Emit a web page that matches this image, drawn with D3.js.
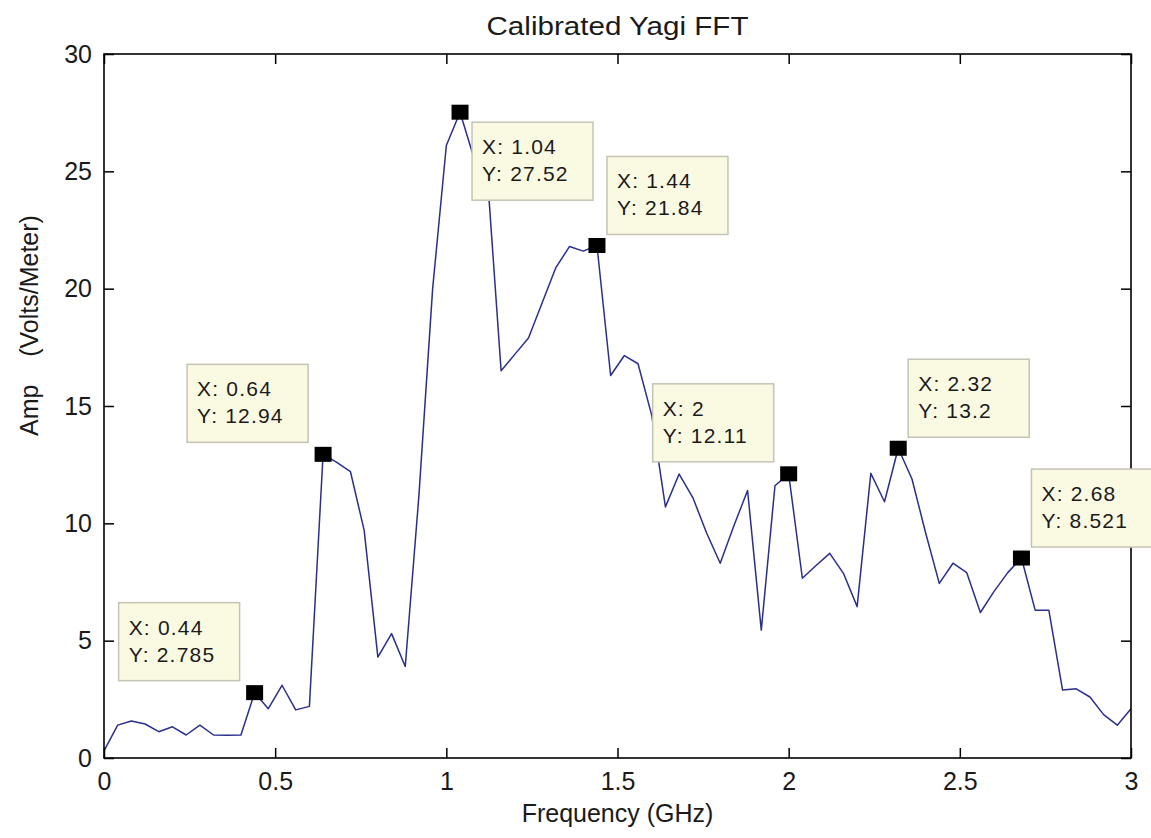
<!DOCTYPE html>
<html><head><meta charset="utf-8">
<script src="https://cdn.jsdelivr.net/npm/d3@7"></script>
<style>
body{margin:0;background:#fff}
text{font-family:"Liberation Sans",Arial,sans-serif;fill:#1a1a1a}
</style>
</head><body><svg id="c" width="1151" height="838"></svg>
<script>
const freq = [0.00,0.04,0.08,0.12,0.16,0.20,0.24,0.28,0.32,0.36,0.40,0.44,0.48,0.52,0.56,0.60,
  0.64,0.68,0.72,0.76,0.80,0.84,0.88,0.92,0.96,1.00,1.04,1.08,1.12,1.16,1.20,1.24,1.28,1.32,
  1.36,1.40,1.44,1.48,1.52,1.56,1.60,1.64,1.68,1.72,1.76,1.80,1.84,1.88,1.92,1.96,2.00,2.04,
  2.08,2.12,2.16,2.20,2.24,2.28,2.32,2.36,2.40,2.44,2.48,2.52,2.56,2.60,2.64,2.68,2.72,2.76,
  2.80,2.84,2.88,2.92,2.96,3.00];
const amp = [0.3,1.4,1.58,1.45,1.12,1.33,0.98,1.4,0.98,0.97,0.98,2.785,2.1,3.1,2.05,2.2,
  12.94,12.6,12.2,9.7,4.3,5.3,3.9,11.2,20.0,26.1,27.52,25.6,24.8,16.5,17.2,17.9,19.4,20.9,
  21.8,21.6,21.84,16.3,17.15,16.8,14.6,10.7,12.1,11.1,9.6,8.3,9.9,11.4,5.45,11.6,12.11,7.66,
  8.2,8.72,7.87,6.45,12.13,10.92,13.2,11.9,9.6,7.44,8.3,7.9,6.2,7.1,7.9,8.521,6.3,6.3,
  2.9,2.95,2.6,1.85,1.4,2.1];
const xTicks = [0,0.5,1,1.5,2,2.5,3];
const xTickLabels = ["0","0.5","1","1.5","2","2.5","3"];
const yTicks = [0,5,10,15,20,25,30];
const yTickLabels = ["0","5","10","15","20","25","30"];
const tipX = [0.44,0.64,1.04,1.44,2,2.32,2.68];
const tipY = [2.785,12.94,27.52,21.84,12.11,13.2,8.521];
const tipXLabels = ["0.44","0.64","1.04","1.44","2","2.32","2.68"];
const tipYLabels = ["2.785","12.94","27.52","21.84","12.11","13.2","8.521"];
const tipSide = ["ul","ul","lr","ur","ul","ur","ur"];
const titleText = "Calibrated Yagi FFT";
const xLabelText = "Frequency (GHz)";
const yLabelText = "Amp    (Volts/Meter)";

const svg = d3.select("#c");
const L=104, R=1131, T=54, B=758;
const x = d3.scaleLinear().domain([0,3]).range([L,R]);
const y = d3.scaleLinear().domain([0,30]).range([B,T]);

svg.append("rect").attr("width",1151).attr("height",838).attr("fill","#fff");

// data line
svg.append("path")
  .datum(freq.map((f,i)=>[f,amp[i]]))
  .attr("fill","none").attr("stroke","#2a2f8e").attr("stroke-width",1.5)
  .attr("stroke-linejoin","round")
  .attr("d", d3.line().x(d=>x(d[0])).y(d=>y(d[1])));

// axes
function styleAxis(g){
  g.select(".domain").remove();
  g.selectAll(".tick line").attr("stroke","#000").attr("stroke-width",1.5);
  g.selectAll(".tick text").attr("font-size",25).attr("fill","#1a1a1a")
    .style("font-family","'Liberation Sans',Arial,sans-serif");
}
svg.append("g").attr("transform",`translate(0,${B})`)
  .call(d3.axisBottom(x).tickValues(xTicks).tickFormat((d,i)=>xTickLabels[i])
    .tickSizeInner(-10).tickSizeOuter(0).tickPadding(14)).call(styleAxis);
svg.append("g").attr("transform",`translate(0,${T})`)
  .call(d3.axisTop(x).tickValues(xTicks).tickFormat("")
    .tickSizeInner(-10).tickSizeOuter(0)).call(styleAxis);
svg.append("g").attr("transform",`translate(${L},0)`)
  .call(d3.axisLeft(y).tickValues(yTicks).tickFormat((d,i)=>yTickLabels[i])
    .tickSizeInner(-10).tickSizeOuter(0).tickPadding(12)).call(styleAxis);
svg.append("g").attr("transform",`translate(${R},0)`)
  .call(d3.axisRight(y).tickValues(yTicks).tickFormat("")
    .tickSizeInner(-10).tickSizeOuter(0)).call(styleAxis);

svg.append("rect").attr("x",L).attr("y",T).attr("width",R-L).attr("height",B-T)
  .attr("fill","none").attr("stroke","#000").attr("stroke-width",1.6);

// titles
svg.append("text").attr("x",(L+R)/2).attr("y",35).attr("text-anchor","middle")
  .attr("font-size",25).attr("textLength",262).attr("lengthAdjust","spacingAndGlyphs")
  .text(titleText);
svg.append("text").attr("x",(L+R)/2).attr("y",822).attr("text-anchor","middle")
  .attr("font-size",25).text(xLabelText);
svg.append("text").attr("transform","translate(38,436) rotate(-90)")
  .attr("text-anchor","start").attr("font-size",25).style("white-space","pre")
  .text(yLabelText);

// data tips
const tips = svg.append("g");
tipX.forEach((fx,i)=>{
  const px=x(fx), py=y(tipY[i]);
  let bx, by;
  if(tipSide[i]==="ul"){bx=px-136; by=py-90;}
  else if(tipSide[i]==="ur"){bx=px+10; by=py-89;}
  else {bx=px+12; by=py+10;}
  tips.append("rect").attr("x",bx).attr("y",by).attr("width",121).attr("height",78)
    .attr("fill","#fafae2").attr("stroke","#c4c4b4").attr("stroke-width",1.5);
  tips.append("text").attr("x",bx+10).attr("y",by+32).attr("font-size",21)
    .attr("letter-spacing",1.2).text("X: "+tipXLabels[i]);
  tips.append("text").attr("x",bx+10).attr("y",by+59).attr("font-size",21)
    .attr("letter-spacing",1.2).text("Y: "+tipYLabels[i]);
});
tipX.forEach((fx,i)=>{
  tips.append("rect").attr("x",x(fx)-8.5).attr("y",y(tipY[i])-7.5)
    .attr("width",17).attr("height",15).attr("fill","#000");
});
</script>
</body></html>
